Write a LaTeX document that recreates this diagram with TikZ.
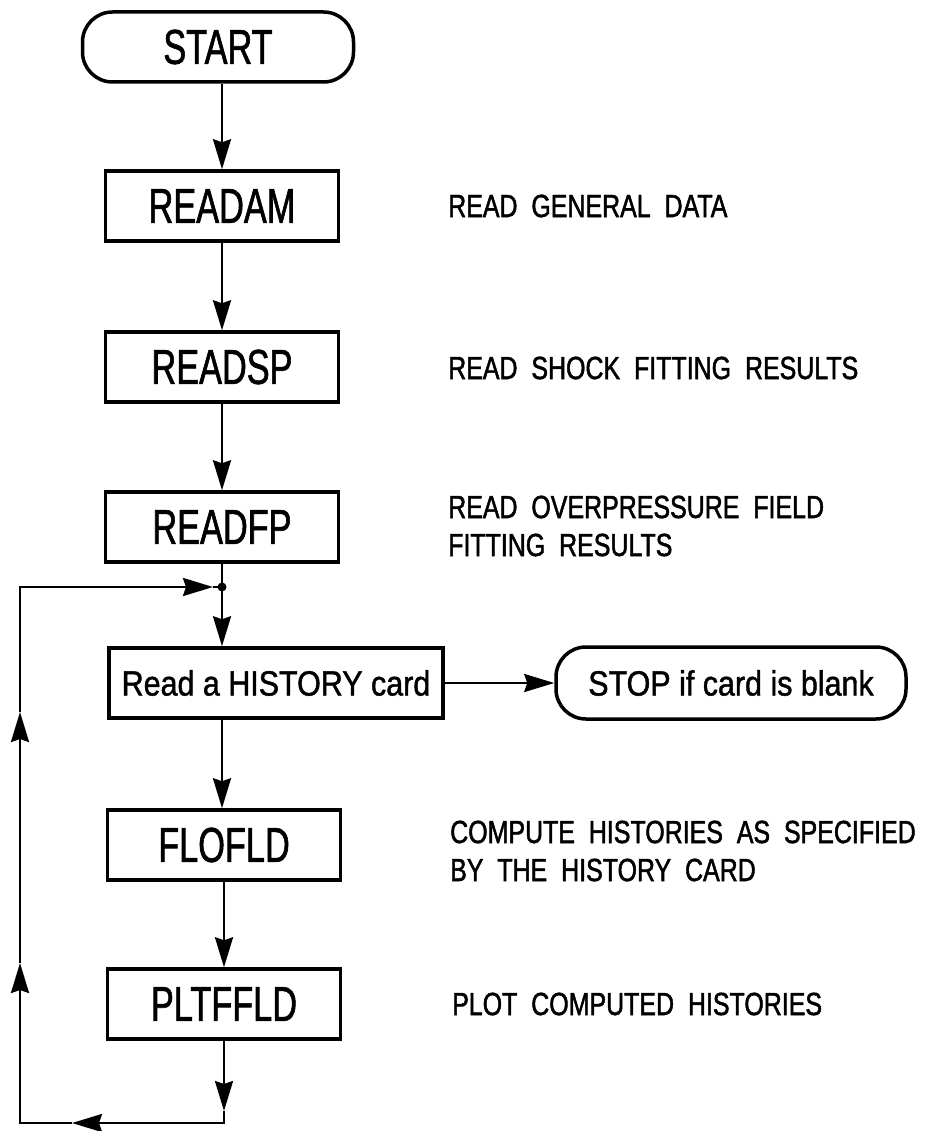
\documentclass[tikz,border=0pt]{standalone}
\usepackage{fontspec}
\setmainfont{Liberation Sans}
\newfontfamily\titlefont[FakeStretch=0.70,FakeBold=1.2]{Liberation Sans}
\newfontfamily\notefont[FakeStretch=0.78,WordSpace=2,FakeBold=1.5]{Liberation Sans}
\newfontfamily\mixfont[FakeStretch=0.87,FakeBold=1.2]{Liberation Sans}
\usetikzlibrary{arrows.meta}

\begin{document}
\begin{tikzpicture}[x=1pt,y=-1pt,
  box/.style={draw, line width=3.5pt, minimum width=233pt, minimum height=70pt,
    inner sep=0pt, font=\titlefont\fontsize{49}{55}\selectfont},
  term/.style={draw, line width=3.5pt, rounded corners=30pt, minimum height=70pt,
    inner sep=0pt},
  conn/.style={line width=2.5pt},
  arr/.style={conn, -{Stealth[length=30pt,width=18pt,inset=3pt]}},
  note/.style={anchor=west, align=left, inner sep=0pt,
    font=\notefont\fontsize{32}{38}\selectfont},
]
\useasboundingbox (0,0) rectangle (927,1131);

% flowchart blocks
\node[term, minimum width=271pt, font=\titlefont\fontsize{49}{55}\selectfont]
  (start) at (218,47) {START};
\node[box] (readam) at (222,206) {READAM};
\node[box] (readsp) at (222,367) {READSP};
\node[box] (readfp) at (222,527) {READFP};
\node[box, minimum width=334pt, font=\mixfont\fontsize{35}{40}\selectfont]
  (hist) at (276,683) {Read a HISTORY card};
\node[term, minimum width=350pt, minimum height=72pt,
  font=\mixfont\fontsize{35}{40}\selectfont]
  (stop) at (731,683) {STOP if card is blank};
\node[box] (flofld) at (224,845) {FLOFLD};
\node[box] (pltffld) at (224,1004) {PLTFFLD};

% comments beside the blocks
\node[note] (n1) at (448,206) {READ GENERAL DATA};
\node[note] (n2) at (448,368) {READ SHOCK FITTING RESULTS};
\node[note] (n3) at (448,526) {READ OVERPRESSURE FIELD\\FITTING RESULTS};
\node[note] (n4) at (450,851) {COMPUTE HISTORIES AS SPECIFIED\\BY THE HISTORY CARD};
\node[note] (n5) at (452,1004) {PLOT COMPUTED HISTORIES};

% main flow
\coordinate (j) at (222,587);
\draw[arr] (start.south -| readam.north) -- (readam.north);
\draw[arr] (readam.south) -- (readsp.north);
\draw[arr] (readsp.south) -- (readfp.north);
\draw[conn] (readfp.south) -- (j);
\draw[arr] (j) -- (j |- hist.north);
\draw[arr] (hist.east) -- (stop.west);
\draw[arr] (j |- hist.south) -- (j |- flofld.north);
\draw[arr] (flofld.south) -- (pltffld.north);

% loop back to the card reader
\coordinate (c1) at (224,1123);
\coordinate (c2) at (20,1123);
\coordinate (c3) at (20,587);
\coordinate (t1) at (224,1111);
\coordinate (t2) at (72,1123);
\coordinate (t3) at (20,963);
\coordinate (t4) at (20,712);
\coordinate (t5) at (213,587);
\draw[arr] (pltffld.south) -- (t1);
\draw[arr] (t1) -- (c1) -- (t2);
\draw[arr] (t2) -- (c2) -- (t3);
\draw[arr] (t3) -- (t4);
\draw[arr] (t4) -- (c3) -- (t5);
\draw[conn] (t5) -- (j);
\fill (j) circle (4.5pt);
\end{tikzpicture}
\end{document}
